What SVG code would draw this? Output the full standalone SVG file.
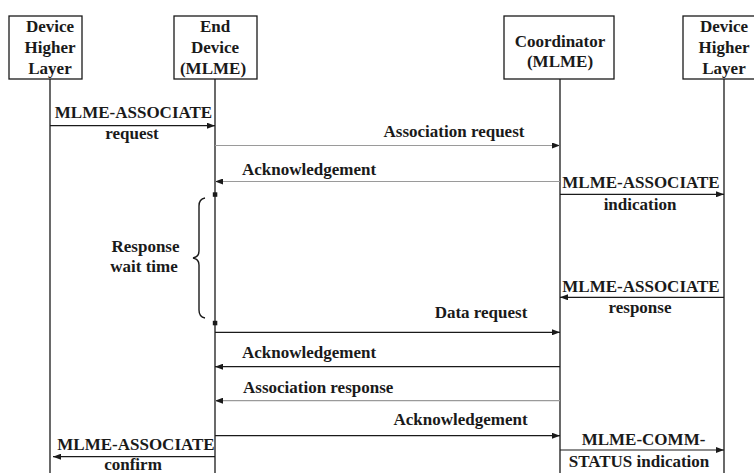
<svg xmlns="http://www.w3.org/2000/svg" width="754" height="473" viewBox="0 0 754 473">
<defs>
<style>
text{font-family:"Liberation Serif","Times New Roman",serif;font-weight:bold;font-size:17px;fill:#1a1a1a;text-anchor:middle}
.box{fill:#fff;stroke:#1a1a1a;stroke-width:1.3}
.life{stroke:#1a1a1a;stroke-width:1.3;fill:none}
.msg{stroke:#1a1a1a;stroke-width:1.2;fill:none;marker-end:url(#ah)}
.gray{stroke:#9a9a9a}
</style>
<marker id="ah" markerUnits="userSpaceOnUse" markerWidth="9" markerHeight="6" refX="8" refY="3" orient="auto">
<path d="M0,0 L8,3 L0,6 z" fill="#1a1a1a"/>
</marker>
</defs>
<rect width="754" height="473" fill="#fff"/>
<g id="lifelines">
<line class="life" x1="50" y1="79" x2="50" y2="473"/>
<line class="life" x1="215" y1="79" x2="215" y2="473"/>
<line class="life" x1="560" y1="79" x2="560" y2="473"/>
<line class="life" x1="724" y1="79" x2="724" y2="473"/>
</g>
<g id="node-device-higher-left">
<rect class="box" x="9" y="16" width="73" height="63"/>
<text x="50" y="32">Device</text>
<text x="50" y="53">Higher</text>
<text x="50" y="74">Layer</text>
</g>
<g id="node-end-device">
<rect class="box" x="174" y="16" width="83" height="63"/>
<text x="215" y="32">End</text>
<text x="215" y="53">Device</text>
<text x="213" y="74">(MLME)</text>
</g>
<g id="node-coordinator">
<rect class="box" x="504" y="16" width="110" height="63"/>
<text x="560" y="47">Coordinator</text>
<text x="560" y="67">(MLME)</text>
</g>
<g id="node-device-higher-right">
<rect class="box" x="683" y="16" width="80" height="63"/>
<text x="724" y="32">Device</text>
<text x="724" y="53">Higher</text>
<text x="724" y="74">Layer</text>
</g>
<g id="connectors">
<line class="msg" x1="50" y1="125.7" x2="215" y2="125.7"/>
<line class="msg gray" x1="215" y1="145.5" x2="560" y2="145.5"/>
<line class="msg gray" x1="560" y1="181.5" x2="215" y2="181.5"/>
<line class="msg" x1="560" y1="194.3" x2="724" y2="194.3"/>
<line class="msg" x1="724" y1="297.3" x2="560" y2="297.3"/>
<line class="msg" x1="215" y1="332.3" x2="560" y2="332.3"/>
<line class="msg" x1="560" y1="366.7" x2="215" y2="366.7"/>
<line class="msg gray" x1="560" y1="400.7" x2="215" y2="400.7"/>
<line class="msg" x1="215" y1="435.7" x2="560" y2="435.7"/>
<line class="msg" x1="215" y1="456.7" x2="53" y2="456.7"/>
<line class="msg" x1="560" y1="450" x2="724" y2="450"/>
</g>
<g id="wait-time">
<rect x="212.8" y="192.3" width="4.5" height="4.5" fill="#1a1a1a"/>
<rect x="212.8" y="320.8" width="4.5" height="4.5" fill="#1a1a1a"/>
<path d="M205,198 Q199,199 199,206 L199,251 Q199,257 193,258 Q199,259 199,265 L199,310 Q199,317 205,318" fill="none" stroke="#1a1a1a" stroke-width="1.4"/>
<text x="145.5" y="252">Response</text>
<text x="144" y="272">wait time</text>
</g>
<g id="labels">
<text x="133.5" y="118">MLME-ASSOCIATE</text>
<text x="132" y="139">request</text>
<text x="454" y="137">Association request</text>
<text x="309" y="175">Acknowledgement</text>
<text x="641" y="188">MLME-ASSOCIATE</text>
<text x="640" y="210">indication</text>
<text x="641" y="291.7">MLME-ASSOCIATE</text>
<text x="640" y="313">response</text>
<text x="481" y="318">Data request</text>
<text x="309" y="358">Acknowledgement</text>
<text x="243" y="393" style="text-anchor:start">Association response</text>
<text x="460.5" y="425">Acknowledgement</text>
<text x="136" y="450">MLME-ASSOCIATE</text>
<text x="133" y="469.5">confirm</text>
<text x="643.5" y="445">MLME-COMM-</text>
<text x="639" y="467">STATUS indication</text>
</g>
</svg>
